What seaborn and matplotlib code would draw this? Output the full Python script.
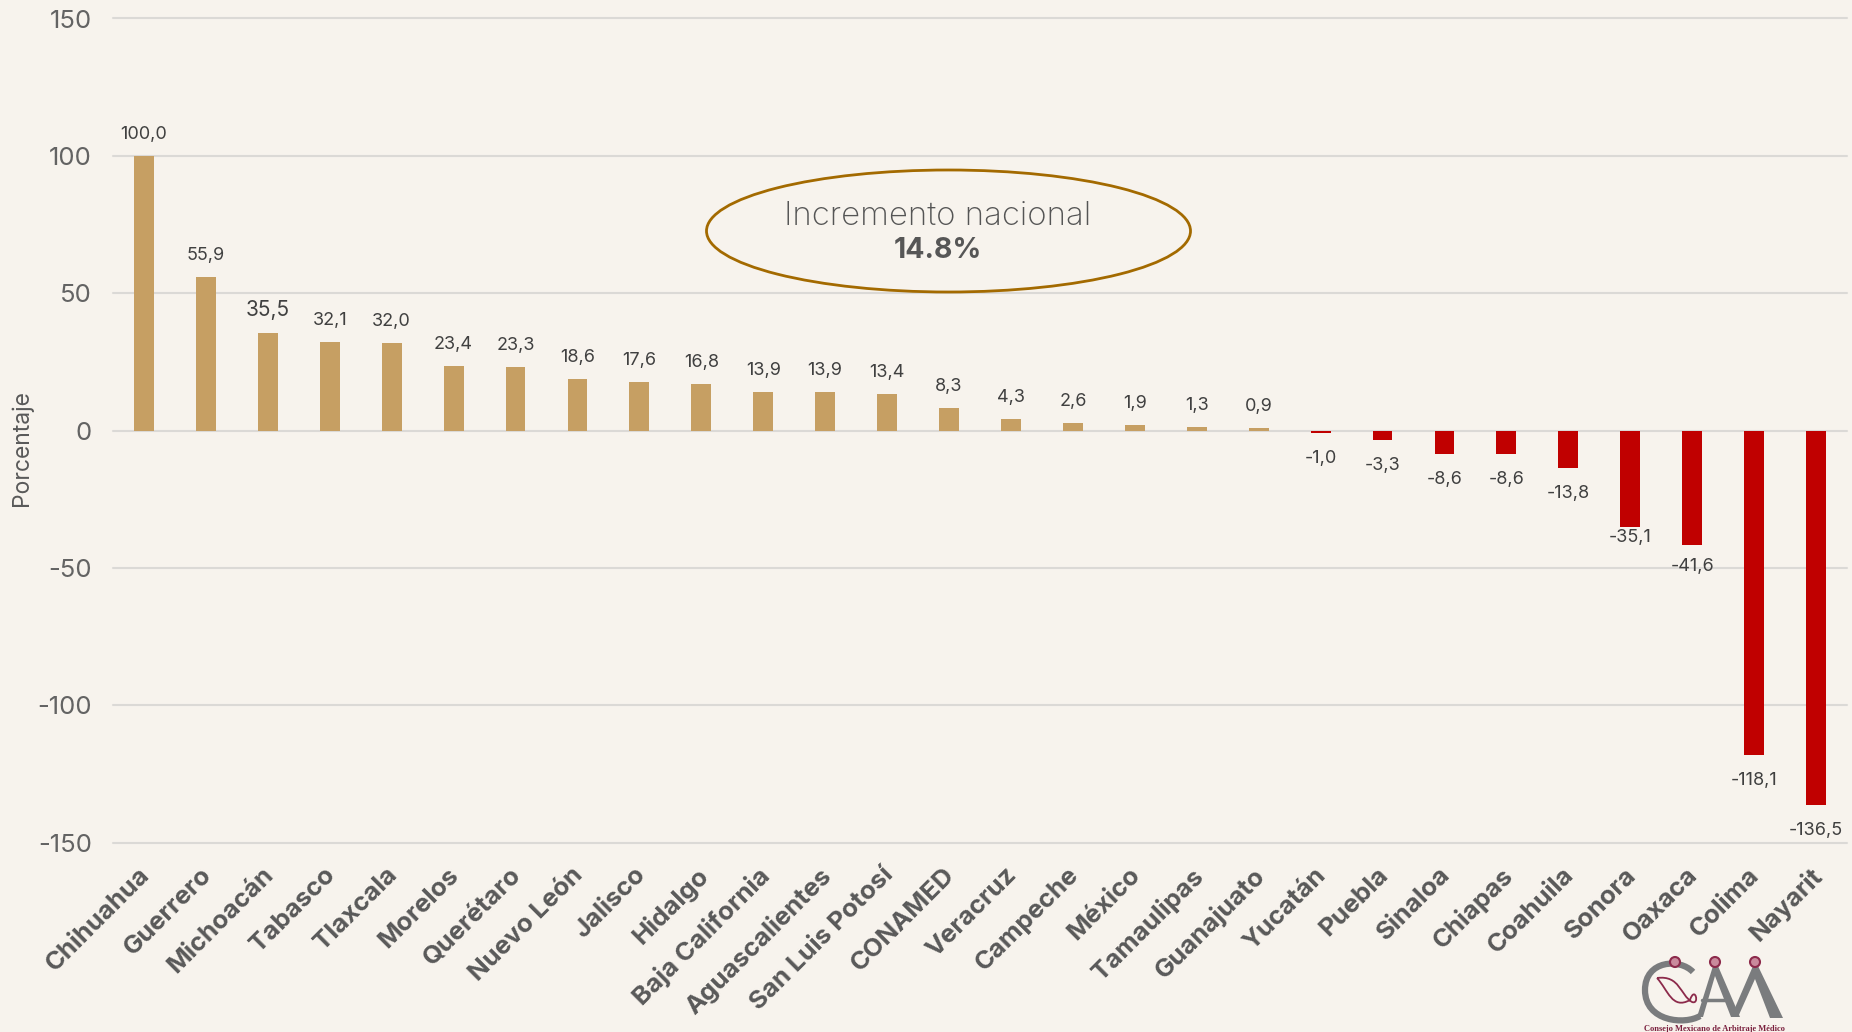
import matplotlib
matplotlib.use("Agg")
import matplotlib.pyplot as plt
from matplotlib.patches import Ellipse, Circle, PathPatch
from matplotlib.path import Path
from matplotlib.transforms import Affine2D
import pandas as pd
import seaborn as sns

estados = ["Chihuahua", "Guerrero", "Michoacán", "Tabasco", "Tlaxcala", "Morelos", "Querétaro",
           "Nuevo León", "Jalisco", "Hidalgo", "Baja California", "Aguascalientes", "San Luis Potosí",
           "CONAMED", "Veracruz", "Campeche", "México", "Tamaulipas", "Guanajuato", "Yucatán", "Puebla",
           "Sinaloa", "Chiapas", "Coahuila", "Sonora", "Oaxaca", "Colima", "Nayarit"]
valores = [100.0, 55.9, 35.5, 32.1, 32.0, 23.4, 23.3, 18.6, 17.6, 16.8, 13.9, 13.9, 13.4, 8.3, 4.3, 2.6,
           1.9, 1.3, 0.9, -1.0, -3.3, -8.6, -8.6, -13.8, -35.1, -41.6, -118.1, -136.5]
yticks = [150, 100, 50, 0, -50, -100, -150]

BG = "#F7F3ED"
W, H = 1852, 1032
sns.set_theme(style="white")
plt.rcParams["font.family"] = ["Inter", "DejaVu Sans"]
plt.rcParams["axes.unicode_minus"] = False

df = pd.DataFrame({"estado": estados, "valor": valores})
df["signo"] = ["pos" if v >= 0 else "neg" for v in valores]

fig = plt.figure(figsize=(W / 100, H / 100), dpi=100, facecolor=BG)
x0, x1, ytop, ybot = 113, 1847, 18.5, 842.5
ax = fig.add_axes([x0 / W, 1 - ybot / H, (x1 - x0) / W, (ybot - ytop) / H], facecolor=BG)
sns.barplot(data=df, x="estado", y="valor", hue="signo", palette={"pos": "#C69F63", "neg": "#C00000"},
            dodge=False, width=0.32, legend=False, ax=ax, zorder=3, saturation=1, linewidth=0)
ax.set_xlim(-0.5, 27.5)
ax.set_ylim(-150, 150)
ax.set_yticks(yticks)
ax.grid(axis="y", color="#DBD9D6", lw=1.5, zorder=0)
ax.grid(axis="x", visible=False)
ax.set_axisbelow(True)
for s in ax.spines.values():
    s.set_visible(False)
for gl in ax.get_ygridlines():
    gl.set_clip_on(False)
ax.set_xlabel("")
ax.set_ylabel("Porcentaje", fontsize=16.5, color="#595959")
ax.yaxis.set_label_coords((33 - x0) / (x1 - x0), (ybot - 448) / (ybot - ytop))
ax.tick_params(axis="y", length=0, pad=15, labelsize=18.5, labelcolor="#636363")
ax.tick_params(axis="x", length=0, pad=15)
ax.set_xticks(range(len(estados)))
ax.set_xticklabels(estados, rotation=45, ha="right", rotation_mode="anchor",
                   fontsize=18.5, fontweight="bold", color="#595959")
for lab in ax.get_xticklabels():
    lab.set_transform(lab.get_transform() + Affine2D().translate(-6, 0))

desfase_neg = {"Sonora": -2, "Oaxaca": -13}
for i, v in enumerate(valores):
    off = 13 if v >= 0 else desfase_neg.get(estados[i], -17)
    ax.annotate(f"{v:.1f}".replace(".", ","), (i, v), xytext=(0, off),
                textcoords="offset pixels", ha="center", va="bottom" if v >= 0 else "top",
                fontsize=15 if i == 2 else 13, color="#404040", zorder=5, annotation_clip=False)

# Overlay in figure pixel space
ov = fig.add_axes([0, 0, 1, 1], facecolor="none")
ov.set_xlim(0, W); ov.set_ylim(H, 0); ov.axis("off")
ov.add_patch(Ellipse((948.5, 231), 484, 122, fill=False, ec="#A36A00", lw=2))
ov.text(938, 216, "Incremento nacional", ha="center", va="center", fontsize=23.7, color="#555555", fontweight="light")
ov.text(938, 251, "14.8%", ha="center", va="center", fontsize=20.5, color="#565656", fontweight="bold")

# Logo
gris = "#7A7C7E"; vino = "#8C2A4B"
ov.add_patch(PathPatch(Path([(1693, 972), (1680, 958), (1645, 960), (1645, 990), (1645, 1022), (1685, 1025), (1700, 1016)],
                            [1, 4, 4, 4, 4, 4, 4]), fill=False, ec=gris, lw=4.5))
for pts in ([(1697, 1017), (1713, 966), (1718, 966), (1740, 1017), (1731, 1017), (1715, 976), (1703, 1017)],
            [(1731, 1017), (1753, 966), (1758, 966), (1783, 1018), (1770, 1018), (1755, 979), (1738, 1017)]):
    ov.fill([p[0] for p in pts], [p[1] for p in pts], color=gris, lw=0)
ov.plot([1702, 1729], [1000, 1000], color=gris, lw=2.5)
for cx in (1675, 1715, 1755):
    ov.add_patch(Circle((cx, 962), 5, fc="#C98A9C", ec=vino, lw=1.5))
ov.add_patch(PathPatch(Path([(1657, 978), (1680, 975), (1680, 995), (1692, 1002), (1700, 1005), (1695, 985), (1690, 1000), (1672, 1010), (1668, 990), (1657, 978)],
                            [1, 4, 4, 4, 4, 4, 4, 4, 4, 4]), fill=False, ec=vino, lw=1.3))
ov.text(1714.5, 1029, "Consejo Mexicano de Arbitraje Médico", ha="center", va="center", fontsize=6,
        color="#7A1F3D", family="Liberation Serif", fontweight="bold")

fig.savefig("out.png", dpi=100, facecolor=BG)
